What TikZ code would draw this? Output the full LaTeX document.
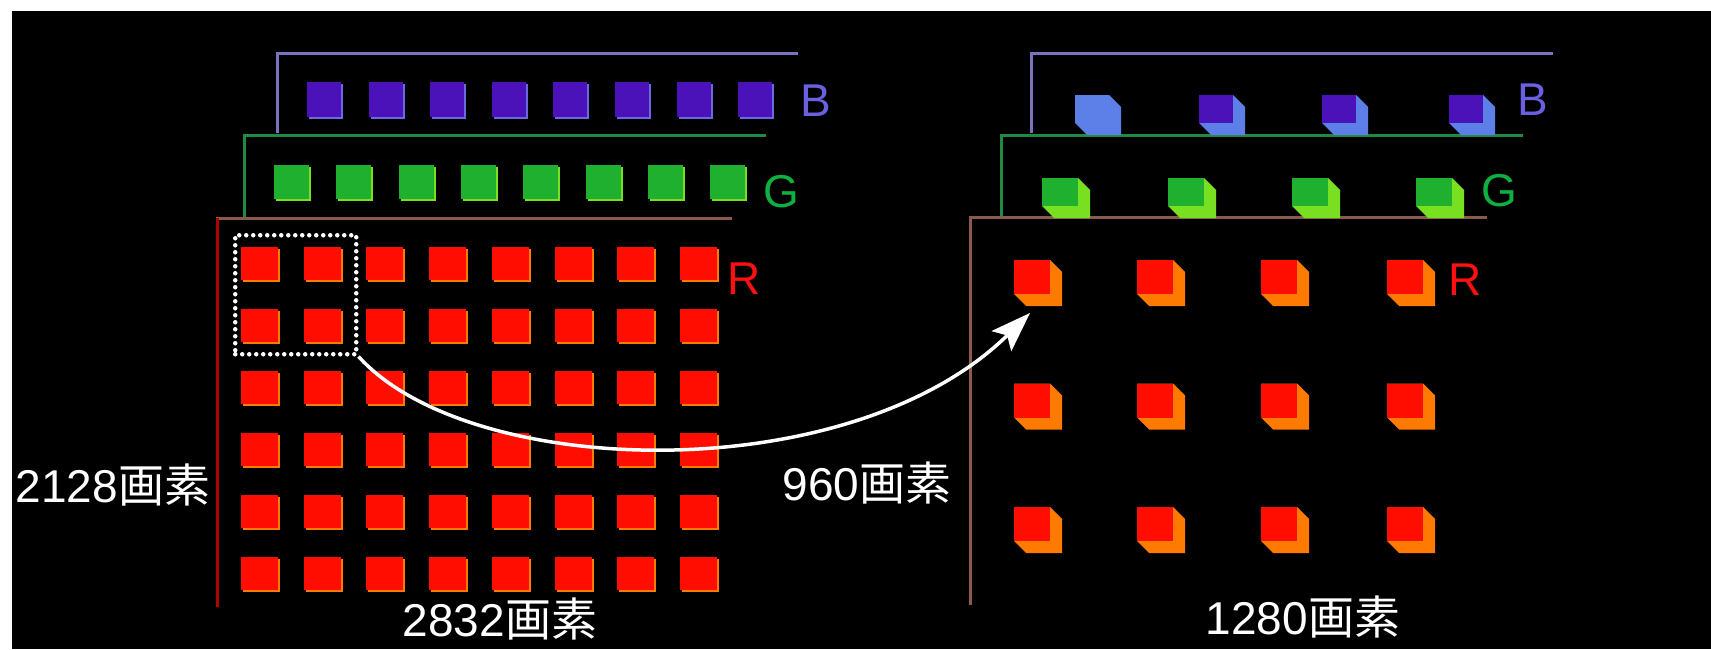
\documentclass[tikz,border=0pt]{standalone}
\usepackage{fontspec}
\setmainfont{Liberation Sans}
\newfontfamily\cjk{Noto Sans CJK JP}
\usetikzlibrary{arrows.meta}
\definecolor{bline}{HTML}{7A74C0}
\definecolor{gline}{HTML}{208A40}
\definecolor{rline}{HTML}{8A5A4A}
\definecolor{rvert}{HTML}{B00000}
\definecolor{bfront}{HTML}{4A12B8}
\definecolor{bside}{HTML}{5C80E8}
\definecolor{bedge}{HTML}{6A6AE0}
\definecolor{gfront}{HTML}{1EB02E}
\definecolor{gside}{HTML}{78E020}
\definecolor{rfront}{HTML}{FF0E00}
\definecolor{rside}{HTML}{FF7A00}
\definecolor{blab}{HTML}{6A60E0}
\definecolor{glab}{HTML}{10B040}
\definecolor{rlab}{HTML}{FF1010}
\newcommand\mycube[7]{% x y w h d front side
  \fill[#7] ({#1},{#2}) -- ++(#3,0) -- ++(#5,#5) -- ++(0,#4) -- ++(-#3,0) -- ++(-#5,-#5) -- cycle;
  \fill[#6] ({#1},{#2}) rectangle ++(#3,#4);}
\newcommand\mysq[6]{% x y w h front edge
  \fill[#6] ({#1+2},{#2+2}) rectangle ++(#3,#4);
  \fill[#5] ({#1},{#2}) rectangle ++(#3,#4);}
\tikzset{
  layer/.style={line width=3pt},
  lbl/.style={text=white, inner sep=0pt, font=\fontsize{46}{50}\selectfont},
  chan/.style={inner sep=0pt, font=\fontsize{46}{50}\selectfont},
  arc/.style={draw=white, line width=3.5pt, -{Stealth[length=40pt,width=28pt,inset=8pt]}},
  sel/.style={draw=white, dash pattern=on 0pt off 7pt, line cap=round, line width=4.5pt,
    minimum width=121pt, minimum height=119pt, inner sep=0pt, anchor=north west}
}
\begin{document}
\begin{tikzpicture}[x=1pt,y=-1pt]
\useasboundingbox (0,0) rectangle (1711,649);
\fill[white] (0,0) rectangle (1711,649);
\fill[black] (12,11) rectangle (1711,649);

% ---------- left panel ----------
\draw[layer, bline] (277,133) -- (277,53) -- (798,53);
\draw[layer, gline] (244,217) -- (244,135) -- (766,135);
\draw[layer, rline] (216,218) -- (732,218);
\draw[layer, rvert] (217,218) -- (217,607);

\foreach \i in {0,...,7} {
  \mysq{307+61.6*\i}{82}{34}{35}{bfront}{bedge}
  \mysq{274+62.3*\i}{165}{35}{34}{gfront}{gside}
}
\foreach \i in {0,...,7} \foreach \j in {0,...,5} {
  \mysq{241+62.7*\i}{247+62*\j}{37}{33}{rfront}{rside}
}
\node[chan, text=blab] (bL) at (816,101) {B};
\node[chan, text=glab] (gL) at (781,192) {G};
\node[chan, text=rlab] (rL) at (744,279) {R};

\node[sel] (sel) at (233,233) {};

\node[lbl] (h1) at (113,485) {2128{\cjk 画素}};
\node[lbl] (w1) at (500,619) {2832{\cjk 画素}};

% ---------- right panel ----------
\draw[layer, bline] (1031,133) -- (1031,53) -- (1553,53);
\draw[layer, gline] (1001,217) -- (1001,135) -- (1523,135);
\draw[layer, rline] (970,605) -- (970,217) -- (1487,217);

\mycube{1075}{95}{34}{28}{12}{bside}{bside}
\foreach \x in {1199,1322,1449} {
  \mycube{\x}{95}{34}{28}{12}{bfront}{bside}
}
\foreach \x in {1042,1168,1292,1416} {
  \mycube{\x}{178}{36}{28}{12}{gfront}{gside}
}
\foreach \x in {1014,1137,1261,1387} \foreach \j in {0,1,2} {
  \mycube{\x}{260+123.5*\j}{36}{34}{12}{rfront}{rside}
}
\node[chan, text=blab] (bR) at (1533,100) {B};
\node[chan, text=glab] (gR) at (1499,191) {G};
\node[chan, text=rlab] (rR) at (1465,280) {R};

\node[lbl] (h2) at (867,483) {960{\cjk 画素}};
\node[lbl] (w2) at (1303,617) {1280{\cjk 画素}};

\coordinate (tgt) at (1030,313);
\draw[arc] (sel.south east) .. controls (470,480) and (850,490) .. (tgt);
\end{tikzpicture}
\end{document}
